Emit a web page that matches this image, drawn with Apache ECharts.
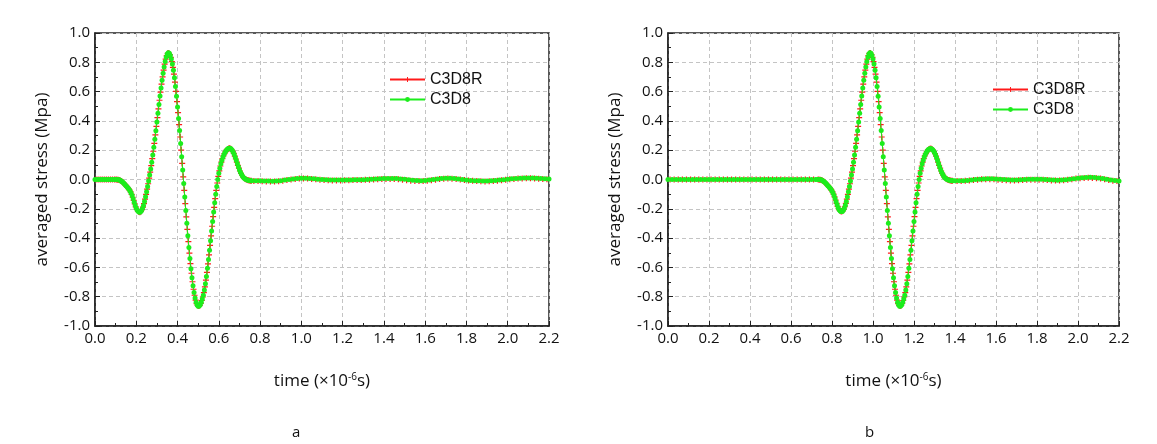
<!DOCTYPE html>
<html>
<head>
<meta charset="utf-8">
<script src="https://cdn.jsdelivr.net/npm/echarts@6/dist/echarts.min.js"></script>
<style>
  html, body { margin: 0; padding: 0; background: #ffffff; }
  #chart { width: 1157px; height: 444px; }
</style>
</head>
<body>
<div id="chart"></div>
<script>
// ---- axis ticks ----
const xTicks = { min: 0, max: 2.2, step: 0.2 };
const yTicks = { min: -1, max: 1, step: 0.2 };
const seriesNames = ['C3D8R', 'C3D8'];
const panelLabels = ['a', 'b'];

// ---- panel a : averaged stress (MPa) sampled in time (x10^-6 s) ----
// C3D8 : head t=0..0.09 step 0.01, pulse t=0.100..0.760 step 0.005, tail t=0.78..2.20 step 0.02
const aC3D8Head = [0,0,0,0,0,0,0,0,0,0];
const aC3D8Pulse = [
  0.000,0.000,-0.001,-0.002,-0.004,-0.008,-0.013,-0.019,-0.026,-0.034,
  -0.042,-0.050,-0.058,-0.067,-0.078,-0.092,-0.110,-0.132,-0.155,-0.177,
  -0.196,-0.210,-0.219,-0.224,-0.222,-0.213,-0.198,-0.177,-0.150,-0.118,
  -0.084,-0.048,-0.010,0.030,0.072,0.118,0.167,0.220,0.275,0.333,
  0.392,0.452,0.512,0.570,0.625,0.677,0.725,0.768,0.806,0.836,
  0.857,0.866,0.861,0.846,0.822,0.788,0.745,0.694,0.635,0.568,
  0.495,0.417,0.334,0.246,0.156,0.065,-0.028,-0.120,-0.211,-0.299,
  -0.384,-0.465,-0.540,-0.609,-0.671,-0.726,-0.772,-0.809,-0.838,-0.856,
  -0.865,-0.864,-0.855,-0.838,-0.815,-0.790,-0.755,-0.712,-0.662,-0.606,
  -0.546,-0.483,-0.418,-0.352,-0.286,-0.221,-0.159,-0.101,-0.048,0.000,
  0.042,0.077,0.107,0.132,0.153,0.170,0.184,0.196,0.205,0.211,
  0.214,0.213,0.208,0.199,0.186,0.170,0.151,0.130,0.108,0.087,
  0.067,0.050,0.035,0.023,0.014,0.007,0.002,-0.002,-0.004,-0.006,
  -0.007,-0.008,-0.008
];
const aC3D8Tail = [
  -0.008,-0.009,-0.010,-0.011,-0.012,-0.011,-0.008,-0.004,0.000,0.004,
  0.007,0.009,0.009,0.007,0.005,0.002,0.000,-0.002,-0.003,-0.004,
  -0.004,-0.004,-0.003,-0.003,-0.002,-0.002,-0.001,0.000,0.001,0.003,
  0.005,0.006,0.007,0.007,0.006,0.004,0.001,-0.002,-0.005,-0.007,
  -0.008,-0.007,-0.004,0.000,0.004,0.007,0.008,0.008,0.006,0.003,
  0.000,-0.003,-0.006,-0.008,-0.009,-0.010,-0.010,-0.009,-0.007,-0.004,
  -0.001,0.002,0.005,0.007,0.009,0.010,0.010,0.010,0.009,0.007,
  0.005,0.003
];
// C3D8R : head t=0.005..0.095 step 0.01, pulse t=0.1025..0.7575 step 0.005, tail t=0.77..2.19 step 0.02
const aC3D8RHead = [0,0,0,0,0,0,0,0,0,0];
const aC3D8RPulse = [
  0.000,-0.001,-0.002,-0.003,-0.006,-0.010,-0.016,-0.022,-0.030,-0.038,
  -0.046,-0.054,-0.062,-0.072,-0.085,-0.101,-0.121,-0.143,-0.166,-0.187,
  -0.203,-0.215,-0.222,-0.223,-0.218,-0.206,-0.188,-0.164,-0.134,-0.101,
  -0.066,-0.029,0.010,0.051,0.095,0.142,0.193,0.247,0.304,0.362,
  0.422,0.482,0.541,0.597,0.651,0.701,0.746,0.787,0.821,0.846,
  0.861,0.863,0.853,0.834,0.805,0.766,0.719,0.664,0.601,0.531,
  0.456,0.375,0.290,0.201,0.110,0.018,-0.074,-0.165,-0.255,-0.341,
  -0.424,-0.502,-0.574,-0.640,-0.698,-0.749,-0.790,-0.823,-0.847,-0.860,
  -0.864,-0.860,-0.846,-0.826,-0.802,-0.772,-0.733,-0.687,-0.634,-0.576,
  -0.514,-0.450,-0.385,-0.319,-0.253,-0.190,-0.130,-0.074,-0.024,0.021,
  0.059,0.092,0.119,0.142,0.161,0.177,0.190,0.200,0.208,0.212,
  0.213,0.210,0.203,0.192,0.178,0.160,0.140,0.119,0.097,0.077,
  0.058,0.042,0.029,0.018,0.010,0.004,0.000,-0.003,-0.005,-0.007,
  -0.008,-0.009
];
const aC3D8RTail = [
  -0.010,-0.011,-0.012,-0.013,-0.014,-0.014,-0.012,-0.008,-0.004,0.000,
  0.003,0.006,0.007,0.006,0.004,0.001,-0.002,-0.004,-0.005,-0.006,
  -0.006,-0.006,-0.005,-0.005,-0.004,-0.004,-0.003,-0.002,-0.001,0.000,
  0.002,0.003,0.004,0.004,0.003,0.001,-0.002,-0.005,-0.008,-0.010,
  -0.011,-0.011,-0.009,-0.005,-0.001,0.003,0.005,0.006,0.005,0.003,
  0.000,-0.003,-0.006,-0.009,-0.011,-0.012,-0.013,-0.012,-0.011,-0.008,
  -0.005,-0.002,0.001,0.004,0.006,0.007,0.008,0.008,0.007,0.005,
  0.003,0.001
];

// ---- panel b ----
// C3D8 : head t=0..0.72 step 0.02, pulse t=0.730..1.390 step 0.005, tail t=1.40..2.20 step 0.02
const bC3D8Head = [
  0,0,0,0,0,0,0,0,0,0,0,0,0,0,0,0,0,0,0,0,
  0,0,0,0,0,0,0,0,0,0,0,0,0,0,0,0,0
];
const bC3D8Pulse = [
  0.000,0.000,-0.001,-0.002,-0.004,-0.008,-0.013,-0.019,-0.026,-0.034,
  -0.042,-0.050,-0.058,-0.067,-0.078,-0.092,-0.109,-0.130,-0.152,-0.173,
  -0.192,-0.206,-0.215,-0.219,-0.218,-0.210,-0.196,-0.176,-0.150,-0.118,
  -0.084,-0.048,-0.010,0.030,0.072,0.118,0.167,0.220,0.275,0.333,
  0.392,0.452,0.512,0.570,0.625,0.677,0.725,0.768,0.806,0.836,
  0.857,0.866,0.861,0.846,0.822,0.788,0.745,0.694,0.635,0.568,
  0.495,0.417,0.334,0.246,0.156,0.065,-0.028,-0.120,-0.211,-0.299,
  -0.384,-0.465,-0.540,-0.609,-0.671,-0.726,-0.772,-0.809,-0.838,-0.856,
  -0.865,-0.864,-0.855,-0.838,-0.815,-0.790,-0.755,-0.712,-0.662,-0.606,
  -0.546,-0.483,-0.418,-0.352,-0.286,-0.221,-0.159,-0.101,-0.048,0.000,
  0.042,0.077,0.107,0.132,0.153,0.170,0.184,0.196,0.204,0.209,
  0.211,0.210,0.205,0.197,0.185,0.169,0.150,0.130,0.108,0.087,
  0.067,0.050,0.035,0.023,0.014,0.007,0.002,-0.002,-0.004,-0.006,
  -0.007,-0.008,-0.008
];
const bC3D8Tail = [
  -0.008,-0.009,-0.008,-0.006,-0.003,0.000,0.002,0.004,0.005,0.005,
  0.004,0.002,0.000,-0.002,-0.003,-0.003,-0.002,0.000,0.001,0.002,
  0.002,0.001,0.000,-0.002,-0.004,-0.005,-0.004,-0.002,0.001,0.005,
  0.009,0.012,0.014,0.015,0.014,0.011,0.007,0.002,-0.003,-0.007,
  -0.010
];
// C3D8R : head t=0.01..0.71 step 0.02, pulse t=0.7325..1.3875 step 0.005, tail t=1.41..2.19 step 0.02
const bC3D8RHead = [
  0,0,0,0,0,0,0,0,0,0,0,0,0,0,0,0,0,0,0,0,
  0,0,0,0,0,0,0,0,0,0,0,0,0,0,0,0
];
const bC3D8RPulse = [
  0.000,-0.001,-0.002,-0.003,-0.006,-0.010,-0.016,-0.022,-0.030,-0.038,
  -0.046,-0.054,-0.062,-0.072,-0.085,-0.100,-0.119,-0.141,-0.163,-0.183,
  -0.199,-0.211,-0.217,-0.219,-0.214,-0.203,-0.186,-0.163,-0.134,-0.101,
  -0.066,-0.029,0.010,0.051,0.095,0.142,0.193,0.247,0.304,0.362,
  0.422,0.482,0.541,0.597,0.651,0.701,0.746,0.787,0.821,0.846,
  0.861,0.863,0.853,0.834,0.805,0.766,0.719,0.664,0.601,0.531,
  0.456,0.375,0.290,0.201,0.110,0.018,-0.074,-0.165,-0.255,-0.341,
  -0.424,-0.502,-0.574,-0.640,-0.698,-0.749,-0.790,-0.823,-0.847,-0.860,
  -0.864,-0.860,-0.846,-0.826,-0.802,-0.772,-0.733,-0.687,-0.634,-0.576,
  -0.514,-0.450,-0.385,-0.319,-0.253,-0.190,-0.130,-0.074,-0.024,0.021,
  0.059,0.092,0.119,0.142,0.161,0.177,0.190,0.200,0.206,0.210,
  0.211,0.208,0.201,0.191,0.177,0.160,0.140,0.119,0.097,0.077,
  0.058,0.042,0.029,0.018,0.010,0.004,0.000,-0.003,-0.005,-0.007,
  -0.008,-0.009
];
const bC3D8RTail = [
  -0.011,-0.011,-0.009,-0.007,-0.004,-0.001,0.001,0.002,0.002,0.001,
  -0.001,-0.003,-0.005,-0.006,-0.006,-0.005,-0.004,-0.002,-0.001,-0.001,
  -0.001,-0.002,-0.004,-0.006,-0.007,-0.007,-0.005,-0.002,0.002,0.006,
  0.009,0.011,0.012,0.011,0.009,0.006,0.001,-0.004,-0.008,-0.011
];

// pair each sampled value with its sampling time
function segment(t0, dt, values) {
  return values.map((v, i) => [Math.round((t0 + i * dt) * 10000) / 10000, v]);
}
const aRed = [].concat(segment(0.005, 0.01, aC3D8RHead), segment(0.1025, 0.005, aC3D8RPulse), segment(0.77, 0.02, aC3D8RTail));
const aGreen = [].concat(segment(0, 0.01, aC3D8Head), segment(0.1, 0.005, aC3D8Pulse), segment(0.78, 0.02, aC3D8Tail));
const bRed = [].concat(segment(0.01, 0.02, bC3D8RHead), segment(0.7325, 0.005, bC3D8RPulse), segment(1.41, 0.02, bC3D8RTail));
const bGreen = [].concat(segment(0, 0.02, bC3D8Head), segment(0.73, 0.005, bC3D8Pulse), segment(1.40, 0.02, bC3D8Tail));

const RED = '#ff1a1a';
const GREEN = '#1ced1c';
const FONT = '"Open Sans", "DejaVu Sans", sans-serif';
const plusSymbol = 'path://M4,0h2v4h4v2h-4v4h-2v-4h-4v-2h4z';

const grids = [
  { left: 95, top: 33, width: 454, height: 293 },
  { left: 668, top: 33, width: 451, height: 293 }
];

function makeX(gi) {
  return {
    type: 'value', gridIndex: gi, min: xTicks.min, max: xTicks.max, interval: xTicks.step,
    name: 'time (×10{sup|-6}s)', nameLocation: 'middle', nameGap: 46,
    nameTextStyle: {
      fontFamily: FONT, fontSize: 17, color: '#111',
      rich: { sup: { fontFamily: FONT, fontSize: 10, color: '#111', verticalAlign: 'top', padding: [0, 0, 9, 0] } }
    },
    axisLine: { show: true, onZero: false, lineStyle: { color: '#222', width: 1.5 } },
    axisTick: { show: true, inside: true, length: 5, lineStyle: { color: '#222' } },
    minorTick: { show: true, splitNumber: 2, length: 3, lineStyle: { color: '#222' } },
    splitLine: { show: true, lineStyle: { color: '#c4c4c4', type: [4, 3], width: 1 } },
    axisLabel: { fontFamily: FONT, fontSize: 15, color: '#111', margin: 5, formatter: v => v.toFixed(1), showMinLabel: true, showMaxLabel: true }
  };
}
function makeY(gi) {
  return {
    type: 'value', gridIndex: gi, min: yTicks.min, max: yTicks.max, interval: yTicks.step,
    name: 'averaged stress (Mpa)', nameLocation: 'middle', nameGap: 44,
    nameTextStyle: { fontFamily: FONT, fontSize: 17, color: '#111' },
    axisLine: { show: true, onZero: false, lineStyle: { color: '#222', width: 1.5 } },
    axisTick: { show: true, inside: true, length: 5, lineStyle: { color: '#222' } },
    minorTick: { show: true, splitNumber: 2, length: 3, lineStyle: { color: '#222' } },
    splitLine: { show: true, lineStyle: { color: '#c4c4c4', type: [4, 3], width: 1 } },
    axisLabel: { fontFamily: FONT, fontSize: 15, color: '#111', margin: 5, formatter: v => v.toFixed(1), showMinLabel: true, showMaxLabel: true }
  };
}
function redSeries(gi, data) {
  return {
    name: seriesNames[0], type: 'line', xAxisIndex: gi, yAxisIndex: gi, data: data,
    symbol: plusSymbol, symbolSize: 6, showSymbol: true, showAllSymbol: true,
    itemStyle: { color: RED }, lineStyle: { color: RED, width: 1 }, z: 2
  };
}
function greenSeries(gi, data) {
  return {
    name: seriesNames[1], type: 'line', xAxisIndex: gi, yAxisIndex: gi, data: data,
    symbol: 'circle', symbolSize: 5, showSymbol: true, showAllSymbol: true,
    itemStyle: { color: GREEN }, lineStyle: { color: GREEN, width: 1 }, z: 3
  };
}
function makeLegend(left, top) {
  return {
    data: seriesNames, orient: 'vertical', left: left, top: top,
    itemWidth: 35, itemHeight: 6, itemGap: 3, selectedMode: false,
    textStyle: { fontFamily: '"Liberation Sans", Arial, sans-serif', fontSize: 16, color: '#111', lineHeight: 17 }
  };
}

const chart = echarts.init(document.getElementById('chart'), null, { renderer: 'canvas' });
chart.setOption({
  animation: false,
  backgroundColor: '#ffffff',
  grid: grids.map(g => Object.assign({ show: true, borderColor: '#222', borderWidth: 1.5, backgroundColor: 'transparent', outerBoundsMode: 'none', containLabel: false }, g)),
  xAxis: [makeX(0), makeX(1)],
  yAxis: [makeY(0), makeY(1)],
  legend: [makeLegend(384, 66), makeLegend(987, 76)],
  series: [redSeries(0, aRed), greenSeries(0, aGreen), redSeries(1, bRed), greenSeries(1, bGreen)],
  graphic: [
    { type: 'text', left: 292, top: 425, style: { text: panelLabels[0], font: '15px ' + FONT, fill: '#111' } },
    { type: 'text', left: 865, top: 425, style: { text: panelLabels[1], font: '15px ' + FONT, fill: '#111' } }
  ]
});
</script>
</body>
</html>
